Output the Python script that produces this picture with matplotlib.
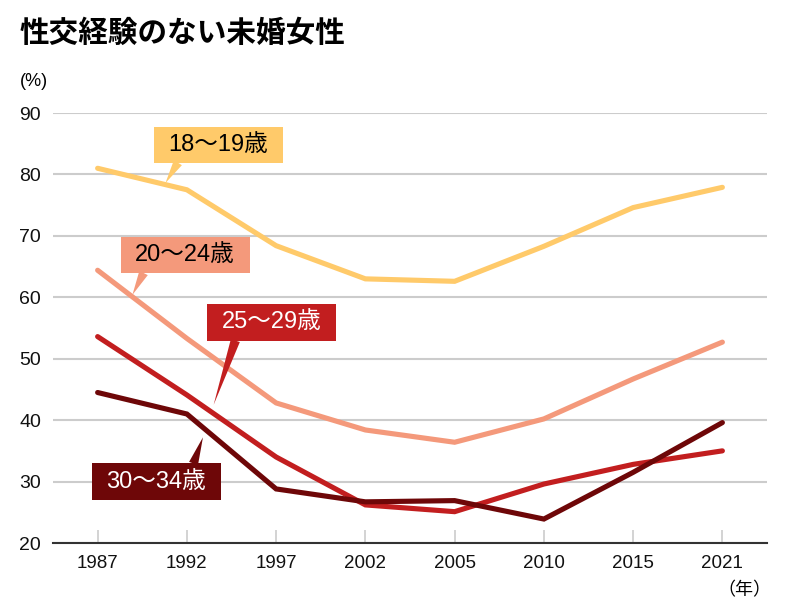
import matplotlib
matplotlib.use("Agg")
import matplotlib.pyplot as plt
from matplotlib.path import Path

plt.rcParams['font.family'] = ['Liberation Sans', 'Noto Sans CJK JP']

# data (%)
years = ['1987', '1992', '1997', '2002', '2005', '2010', '2015', '2021']
age_18_19 = [81.0, 77.5, 68.4, 63.0, 62.6, 68.3, 74.6, 77.9]
age_20_24 = [64.4, 53.3, 42.8, 38.4, 36.4, 40.2, 46.7, 52.7]
age_25_29 = [53.6, 44.1, 34.0, 26.2, 25.1, 29.6, 32.8, 35.0]
age_30_34 = [44.5, 41.0, 28.8, 26.7, 26.9, 23.9, 31.5, 39.6]
names = ['18〜19歳', '20〜24歳', '25〜29歳', '30〜34歳']

colors = ['#FFCA6A', '#F4997B', '#C21E1F', '#6E0708']
text_colors = ['black', 'black', 'white', 'white']
# label box centre, pointer tip, where pointer leaves box (relative to text)
box_xy = [(1.35, 84.85), (0.98, 66.9), (1.95, 55.9), (0.655, 30.0)]
tip_xy = [(0.76, 78.6), (0.39, 60.4), (1.30, 42.5), (1.18, 37.2)]
relpos = [(0.14, 0.0), (0.12, 0.0), (0.16, 0.0), (0.85, 1.0)]


def label_box(x0, y0, width, height, mutation_size):
    px = 0.62 * mutation_size
    py = 0.3 * mutation_size
    x0, y0 = x0 - px, y0 - py
    x1, y1 = x0 + width + 2 * px, y0 + height + 2 * py
    return Path([(x0, y0), (x1, y0), (x1, y1), (x0, y1), (x0, y0)], closed=True)


fig = plt.figure(figsize=(7.98, 6.06), dpi=100)
ax = fig.add_axes([53 / 798, 1 - 543 / 606, 714 / 798, 430 / 606])

x = list(range(len(years)))
for vals, c in zip([age_18_19, age_20_24, age_25_29, age_30_34], colors):
    ax.plot(x, vals, color=c, lw=3.7, solid_capstyle='round',
            solid_joinstyle='miter', clip_on=False, zorder=3)

for i in range(4):
    ax.annotate(names[i], xy=tip_xy[i], xytext=box_xy[i],
                ha='center', va='center', fontsize=17, color=text_colors[i],
                bbox=dict(boxstyle=label_box, fc=colors[i], ec='none'),
                arrowprops=dict(arrowstyle='wedge,tail_width=0.4', fc=colors[i],
                                ec='none', shrinkA=0, shrinkB=0, relpos=relpos[i]),
                zorder=5)

ax.set_xlim(-0.5, 7.5)
ax.set_ylim(20, 90)
ax.set_xticks(x)
ax.set_xticklabels(years)
ax.set_yticks(range(20, 91, 10))
ax.yaxis.grid(True, color='#cccccc', lw=1.5)
ax.set_axisbelow(True)
for s in ['top', 'right', 'left']:
    ax.spines[s].set_visible(False)
ax.spines['bottom'].set_color('#333333')
ax.spines['bottom'].set_linewidth(1.5)
ax.spines['bottom'].set_zorder(4)
ax.tick_params(axis='y', length=0, pad=8.5, labelsize=14, labelcolor='#111111')
ax.tick_params(axis='x', direction='in', length=9.5, width=1.2, color='#cccccc',
               pad=9, labelsize=13.5, labelcolor='#111111')

fig.text(20 / 798, 1 - 33 / 606, '性交経験のない未婚女性', fontsize=21.3,
         fontweight='bold', va='center', ha='left', family=['Noto Sans CJK JP'])
fig.text(20 / 798, 1 - 82 / 606, '(%)', fontsize=13, va='center', ha='left')
fig.text(771 / 798, 1 - 590 / 606, '（年）', fontsize=13, va='center', ha='right',
         family=['Noto Sans CJK JP'])

fig.savefig('out.png', dpi=100, facecolor='white')
